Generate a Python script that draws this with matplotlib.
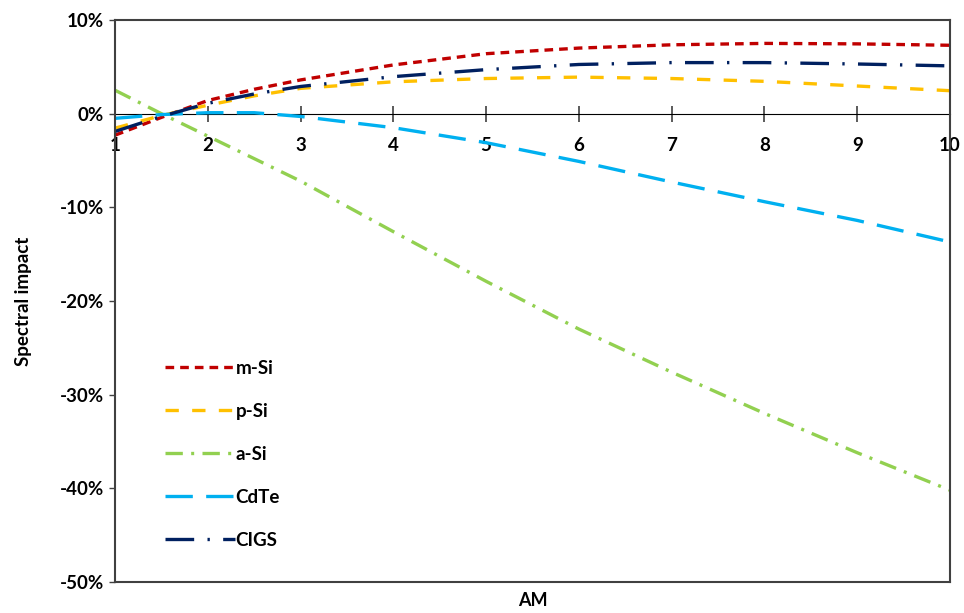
import matplotlib
matplotlib.use("Agg")
import matplotlib.pyplot as plt
from matplotlib.ticker import FuncFormatter

plt.rcParams['font.family'] = ['Lato', 'DejaVu Sans']
plt.rcParams['font.weight'] = 'bold'

# Air mass values and spectral impact (%) per technology
am = [1, 1.5, 2, 2.5, 3, 4, 5, 6, 7, 8, 9, 10]
m_si = [-2.3, -0.4, 1.4, 2.6, 3.6, 5.2, 6.4, 7.0, 7.35, 7.5, 7.45, 7.3]
p_si = [-1.55, -0.2, 0.9, 1.9, 2.7, 3.4, 3.75, 3.9, 3.75, 3.45, 2.95, 2.45]
a_si = [2.5, 0.0, -2.4, -4.8, -7.2, -12.6, -17.9, -23.0, -27.6, -32.0, -36.2, -40.2]
cdte = [-0.5, -0.1, 0.1, 0.1, -0.3, -1.5, -3.1, -5.1, -7.3, -9.4, -11.4, -13.7]
cigs = [-1.9, -0.3, 1.1, 2.1, 2.9, 3.95, 4.7, 5.25, 5.45, 5.45, 5.3, 5.1]

x_ticks = [1, 2, 3, 4, 5, 6, 7, 8, 9, 10]
y_ticks = [-50, -40, -30, -20, -10, 0, 10]

fig = plt.figure(figsize=(9.64, 6.13), dpi=100)
ax = fig.add_axes([0.1193, 0.0506, 0.8662, 0.9168])

lw = 2.4
series = [
    ("m-Si", m_si, "#C00000", (2.6, 1.8)),
    ("p-Si", p_si, "#FFC000", (4.0, 4.0)),
    ("a-Si", a_si, "#92D050", (5.2, 2.5, 0.9, 2.5)),
    ("CdTe", cdte, "#00B0F0", (8.2, 4.0)),
    ("CIGS", cigs, "#002060", (8.6, 4.0, 0.7, 4.0)),
]
for name, vals, color, dash in series:
    ax.plot(am, vals, color=color, lw=lw, dashes=dash, label=name,
            solid_capstyle='butt', dash_capstyle='butt')

ax.set_xlim(1, 10)
ax.set_ylim(-50, 10)

# Frame
for sp in ax.spines.values():
    sp.set_color("#404040")
    sp.set_linewidth(1.5)

# Y axis
ax.set_yticks(y_ticks)
ax.yaxis.set_major_formatter(FuncFormatter(lambda v, p: f"{v:.0f}%"))
ax.tick_params(axis='y', direction='out', length=4, width=1, color="#404040",
               labelsize=13.5, pad=4)
ax.set_ylabel("Spectral impact", fontsize=13.5, fontweight='bold', labelpad=20)

# Hide bottom ticks; category axis crosses at zero
ax.tick_params(axis='x', bottom=False, labelbottom=False)
zero_frac = (0 - (-50)) / 60
sec = ax.secondary_xaxis(zero_frac)
sec.xaxis.set_ticks_position('bottom')
sec.set_xticks(x_ticks)
sec.set_xticklabels([str(t) for t in x_ticks])
sec.spines['bottom'].set_color("#595959")
sec.spines['bottom'].set_linewidth(1.5)
sec.tick_params(axis='x', which='both', direction='inout', length=12, width=1.2,
                color="#404040", labelsize=13.5, pad=11,
                bottom=True, top=False, labelbottom=True, labeltop=False)

ax.set_xlabel("AM", fontsize=13, fontweight='bold', labelpad=7)

ax.legend(loc='upper left', bbox_to_anchor=(0.04, 0.425), frameon=False,
          handlelength=3.7, labelspacing=1.38, handletextpad=0.05,
          prop={'size': 13.5, 'weight': 'bold'})

fig.savefig("out.png", dpi=100)
